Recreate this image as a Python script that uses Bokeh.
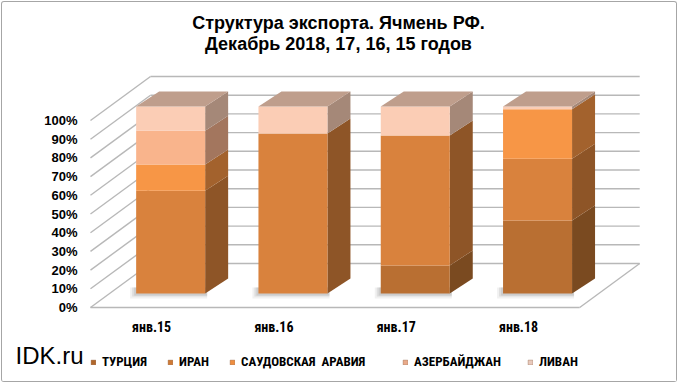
from bokeh.plotting import figure
from bokeh.models import (ColumnDataSource, Range1d, LinearAxis, FixedTicker,
                          PrintfTickFormatter, Legend, LegendItem, Label)
from bokeh.embed import file_html
from bokeh.resources import INLINE

# ---------------- data ----------------
categories = ["янв.15", "янв.16", "янв.17", "янв.18"]
series_names = ["ТУРЦИЯ", "ИРАН", "САУДОВСКАЯ  АРАВИЯ", "АЗЕРБАЙДЖАН", "ЛИВАН"]
turkey = [0, 0, 15, 39]
iran = [55, 85.5, 69.5, 33]
saudi = [14, 0, 0, 26.5]
azerbaijan = [18, 0, 0, 0]
lebanon = [13, 14.5, 15.5, 1.5]
y_ticks = [0, 10, 20, 30, 40, 50, 60, 70, 80, 90, 100]

# ---------------- styles ----------------
front_colors = ["#B96F32", "#D9823D", "#F79646", "#F9B48C", "#FBCDB5"]
side_colors = ["#7A4A20", "#8E5527", "#A3622D", "#A3765E", "#A58878"]
top_colors = ["#9C6A45", "#A9795A", "#C08A64", "#C09A85", "#BF9E8C"]
legend_colors = ["#B0672B", "#CF7A36", "#EE8E40", "#E9AA8A", "#E8C9BC"]
grid_color = "#B8B8B8"
NARROW = "'Liberation Sans Narrow', 'Arial Narrow', 'Roboto Condensed', sans-serif"
ARIAL = "'Liberation Sans', Arial, sans-serif"
BORDER = "1px solid #A6A6A6"

# pixel scale of the data axes
X_PX = 122.3   # px per category step
Y_PX = 1.87    # px per percent
DX, DY = 60 / X_PX, 44 / Y_PX          # depth of walls/floor
FX, FY = 19 / X_PX, 14 / Y_PX          # offset of bar front face
BX, BY = 23 / X_PX, 15 / Y_PX          # bar depth
W = 69 / X_PX                          # bar width

W_FIG, H1, H2 = 676, 341, 40
frame_left, frame_w = 86, 556
frame_h = 311
x0 = -0.5 - 2 / X_PX
y0 = -6 / Y_PX

p = figure(width=W_FIG, height=H1, output_backend="svg", toolbar_location=None,
           x_range=Range1d(x0, x0 + frame_w / X_PX),
           y_range=Range1d(y0, y0 + frame_h / Y_PX),
           min_border_left=frame_left, min_border_right=W_FIG - frame_left - frame_w,
           min_border_top=0, min_border_bottom=H1 - frame_h,
           x_axis_location=None, y_axis_location=None)
p.styles = {"border": BORDER, "border-bottom": "none", "margin": "1px 1px 0px 1px",
            "border-radius": "3px 3px 0px 0px"}
p.outline_line_color = None
p.xgrid.visible = False
p.ygrid.visible = False

# ---------------- walls and floor ----------------
n = len(categories)
xl, xr = -0.5, n - 0.5
p.segment(x0=[xl] * len(y_ticks), y0=y_ticks,
          x1=[xl + DX] * len(y_ticks), y1=[v + DY for v in y_ticks],
          line_color=grid_color, line_width=1.4)
p.segment(x0=[xl + DX] * len(y_ticks), y0=[v + DY for v in y_ticks],
          x1=[xr + DX] * len(y_ticks), y1=[v + DY for v in y_ticks],
          line_color=grid_color, line_width=1.4)
p.segment(x0=[xl, xr], y0=[0, 0], x1=[xr, xr + DX], y1=[0, DY],
          line_color=grid_color, line_width=1.4)

# ---------------- bars ----------------
series = [turkey, iran, saudi, azerbaijan, lebanon]
xs_idx = list(range(n))
# soft shadows
for gx, gy, a in [(6, 5, 0.12), (4, 3, 0.18), (2, 2, 0.22)]:
    p.quad(left=[i + FX - W / 2 - gx / X_PX for i in xs_idx],
           right=[i + FX + W / 2 + 2 / X_PX for i in xs_idx],
           bottom=[FY - gy / Y_PX] * n, top=[FY + 6 / Y_PX] * n,
           fill_color="#8C8C8C", fill_alpha=a, line_color=None)

cum = [0.0] * n
for s, vals in enumerate(series):
    left = [i + FX - W / 2 for i in xs_idx]
    right = [i + FX + W / 2 for i in xs_idx]
    bottom = [cum[i] + FY for i in xs_idx]
    top = [cum[i] + vals[i] + FY for i in xs_idx]
    keep = [i for i in xs_idx if vals[i] > 0]
    p.patches(xs=[[right[i], right[i] + BX, right[i] + BX, right[i]] for i in keep],
              ys=[[bottom[i], bottom[i] + BY, top[i] + BY, top[i]] for i in keep],
              fill_color=side_colors[s], line_color=None)
    src = ColumnDataSource(dict(left=[left[i] for i in keep], right=[right[i] for i in keep],
                                bottom=[bottom[i] for i in keep], top=[top[i] for i in keep]))
    p.quad(left="left", right="right", bottom="bottom", top="top", source=src,
           fill_color=front_colors[s], line_color=None)
    cum = [cum[i] + vals[i] for i in xs_idx]

# top faces (colour of the uppermost segment)
top_x, top_y, top_c = [], [], []
for i in xs_idx:
    last = max(s for s in range(len(series)) if series[s][i] > 0)
    T = cum[i] + FY
    l, r_ = i + FX - W / 2, i + FX + W / 2
    top_x.append([l, r_, r_ + BX, l + BX])
    top_y.append([T, T, T + BY, T + BY])
    top_c.append(top_colors[last])
p.patches(xs=top_x, ys=top_y, fill_color=top_c, line_color=None)

# ---------------- axes ----------------
yax = LinearAxis(ticker=FixedTicker(ticks=y_ticks),
                 formatter=PrintfTickFormatter(format="%d%%"))
yax.axis_line_color = None
yax.major_tick_line_color = None
yax.minor_tick_line_color = None
yax.major_tick_out = 0
yax.major_label_standoff = 11
yax.major_label_text_font = ARIAL
yax.major_label_text_font_style = "bold"
yax.major_label_text_font_size = "13px"
yax.major_label_text_color = "#000000"
p.add_layout(yax, "left")

xax = LinearAxis(ticker=FixedTicker(ticks=xs_idx),
                 major_label_overrides={i: c for i, c in enumerate(categories)})
xax.axis_line_color = None
xax.major_tick_line_color = None
xax.minor_tick_line_color = None
xax.major_tick_out = 0
xax.major_label_standoff = 5
xax.major_label_text_font = NARROW
xax.major_label_text_font_style = "bold"
xax.major_label_text_font_size = "14px"
xax.major_label_text_color = "#000000"
p.add_layout(xax, "below")

# ---------------- title ----------------
title_lines = ["Структура экспорта. Ячмень РФ.", "Декабрь 2018, 17, 16, 15 годов"]
for txt, yy in zip(title_lines, [291, 269.5]):
    p.add_layout(Label(x=250, y=yy, x_units="screen", y_units="screen", text=txt,
                       text_align="center", text_baseline="middle",
                       text_font=ARIAL, text_font_style="bold",
                       text_font_size="18px", text_color="#000000"))

# ---------------- bottom strip: IDK.ru + legend ----------------
p2 = figure(width=W_FIG, height=H2, output_backend="svg", toolbar_location=None,
            x_range=Range1d(0, W_FIG), y_range=Range1d(0, H2), min_border=0,
            x_axis_location=None, y_axis_location=None)
p2.styles = {"border": BORDER, "border-top": "none", "margin": "0px 1px 1px 1px",
             "border-radius": "0px 0px 3px 3px"}
p2.outline_line_color = None
p2.xgrid.visible = False
p2.ygrid.visible = False
p2.add_layout(Label(x=13, y=27, x_units="screen", y_units="screen", text="IDK.ru",
                    text_align="left", text_baseline="middle",
                    text_font=ARIAL, text_font_size="24px", text_color="#000000"))
legend_x = [88, 165, 227, 400, 525]
nan = float("nan")
for s, nm in enumerate(series_names):
    r = p2.quad(left=[nan], right=[nan], bottom=[nan], top=[nan],
                fill_color=legend_colors[s], line_color="#8A5A3A", line_alpha=0.35,
                line_width=1)
    lg = Legend(items=[LegendItem(label=nm, renderers=[r])],
                orientation="horizontal", location=(legend_x[s], 13),
                glyph_width=6, glyph_height=6, label_height=14, label_standoff=6,
                spacing=0, padding=0, margin=0,
                label_text_font=NARROW, label_text_font_style="bold",
                label_text_font_size="13px", label_text_color="#000000",
                border_line_color=None, background_fill_alpha=0)
    p2.add_layout(lg, "center")

open("out.html", "w").write(file_html([p, p2], INLINE))
